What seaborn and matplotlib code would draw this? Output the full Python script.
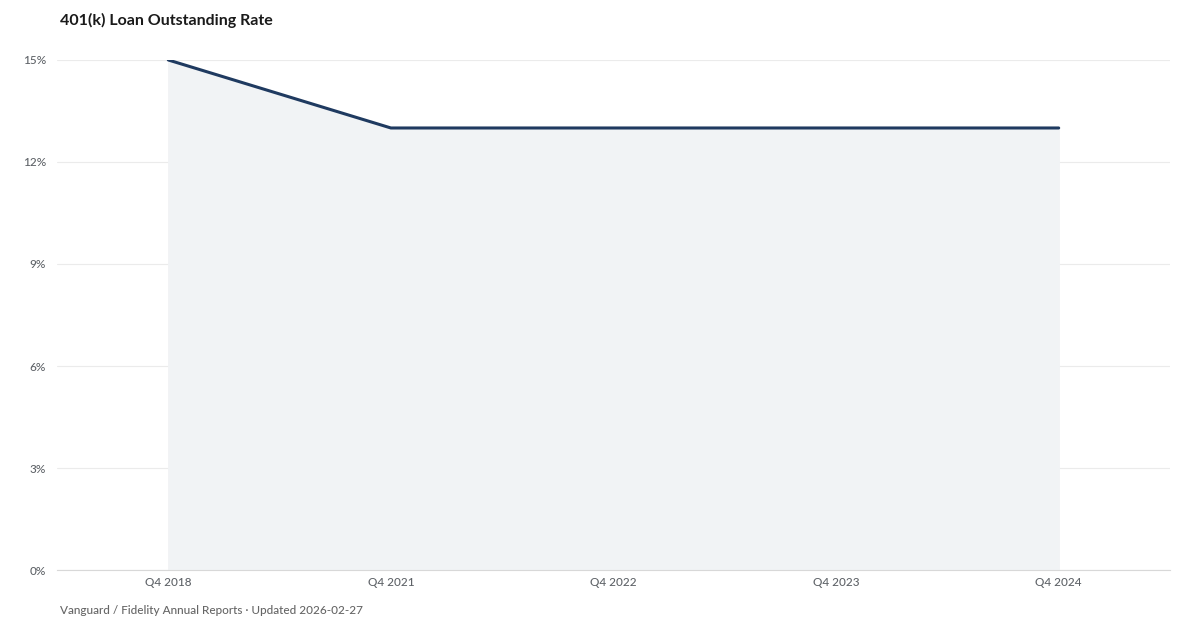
import matplotlib
matplotlib.use("Agg")
import matplotlib.pyplot as plt
import seaborn as sns
import pandas as pd

# data
quarters = ["Q4 2018", "Q4 2021", "Q4 2022", "Q4 2023", "Q4 2024"]
loan_rate = [15, 13, 13, 13, 13]
y_ticks = [0, 3, 6, 9, 12, 15]

df = pd.DataFrame({"quarter": quarters, "rate": loan_rate})
df["pos"] = range(len(df))

sns.set_style("white")
plt.rcParams['font.family'] = ['Lato', 'DejaVu Sans']

fig = plt.figure(figsize=(12, 6.3), dpi=100)
ax = fig.add_axes([0.0475, 0.0952, 0.9275, 0.8096])

ax.fill_between(df["pos"], df["rate"], 0, color="#f1f3f5", zorder=1)
sns.lineplot(data=df, x="pos", y="rate", color="#1f3a60", linewidth=2.2, ax=ax, zorder=3)

ax.set_xlim(-0.5, len(quarters) - 0.5)
ax.set_ylim(0, 15)
ax.set_xticks(df["pos"])
ax.set_xticklabels(quarters)
ax.set_yticks(y_ticks)
ax.set_yticklabels([f"{t}%" for t in y_ticks])
ax.grid(axis="y", color="#ebebeb", linewidth=0.8)
ax.set_axisbelow(True)
ax.tick_params(axis="both", length=0, labelsize=8.5, colors="#5f6368")
ax.tick_params(axis="x", pad=5)
ax.tick_params(axis="y", pad=8)
for lbl in ax.get_xticklabels() + ax.get_yticklabels():
    lbl.set_fontweight("medium")
for s in ["top", "right", "left"]:
    ax.spines[s].set_visible(False)
ax.spines["bottom"].set_color("#d8d8d8")
ax.spines["bottom"].set_linewidth(0.8)
ax.set_xlabel("")
ax.set_ylabel("")

fig.text(0.05, 0.968, "401(k) Loan Outstanding Rate", fontsize=11.5, fontweight="bold",
         color="#1a1a1a", va="center")
fig.text(0.05, 0.031, "Vanguard / Fidelity Annual Reports · Updated 2026-02-27", fontsize=8.5,
         fontweight="medium", color="#666666", va="center")

fig.savefig("out.png", dpi=100)
